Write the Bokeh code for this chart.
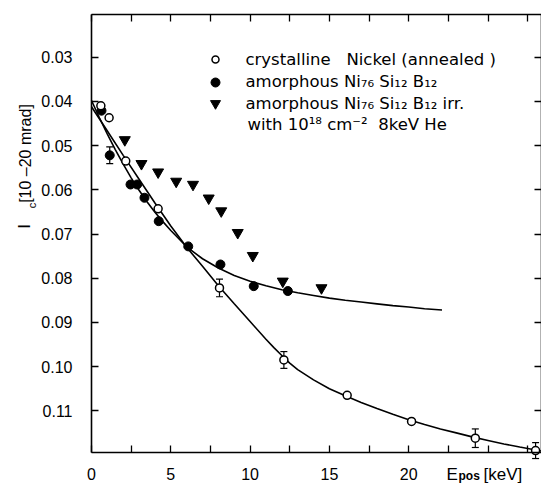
import math
from bokeh.plotting import figure
from bokeh.models import Range1d, FixedTicker, Label, Whisker, TeeHead, ColumnDataSource, LinearAxis
from bokeh.embed import file_html
from bokeh.resources import INLINE

# ---------------- data ----------------
cryst_x = [0.59, 1.11, 2.16, 4.20, 8.07, 12.13, 16.12, 20.18, 24.20, 28.00]
cryst_y = [0.0410, 0.0437, 0.0535, 0.0643, 0.0822, 0.0985, 0.1065, 0.1124, 0.1162, 0.1190]

amor_x = [0.63, 1.15, 2.46, 2.88, 3.34, 4.24, 6.10, 8.13, 10.23, 12.38]
amor_y = [0.0421, 0.0522, 0.0588, 0.0588, 0.0618, 0.0671, 0.0728, 0.0769, 0.0818, 0.0829]

irr_x = [2.10, 3.15, 4.20, 5.34, 6.40, 7.39, 8.18, 9.22, 10.17, 12.06, 14.50]
irr_y = [0.0487, 0.0541, 0.0560, 0.0581, 0.0588, 0.0619, 0.0648, 0.0697, 0.0749, 0.0807, 0.0822]

err_x = [1.15, 8.07, 12.13, 24.20, 28.00]
err_y = [0.0522, 0.0822, 0.0985, 0.1162, 0.1190]
err_d = [0.0019, 0.0020, 0.0019, 0.0021, 0.0018]

fit_cryst_x = [0, 1, 2, 3, 4, 5, 6, 7, 8, 9, 10, 11, 11.5, 12, 12.5, 13, 14, 15, 16,
               17, 18, 19, 20, 21, 22, 23, 24, 25, 26, 27, 28.37]
fit_cryst_y = [0.0412, 0.0467, 0.0522, 0.0576, 0.0630, 0.0682, 0.0730, 0.0773, 0.0817,
               0.0858, 0.0898, 0.0938, 0.0957, 0.0975, 0.0992, 0.1007, 0.1030, 0.1050,
               0.1066, 0.1081, 0.1095, 0.1108, 0.1120, 0.1131, 0.1141, 0.1150, 0.1159,
               0.1167, 0.1175, 0.1182, 0.1191]

fit_amor_x = [0, 0.5, 1, 1.5, 2, 2.5, 3, 3.5, 4, 4.5, 5, 6, 7, 8, 9, 10, 11, 12, 13,
              14, 15, 16, 17, 18, 19, 20, 21, 22.1]
fit_amor_y = [0.0398, 0.0437, 0.0474, 0.0509, 0.0542, 0.0573, 0.0601, 0.0627, 0.0651,
              0.0672, 0.0692, 0.0729, 0.0756, 0.0777, 0.0794, 0.0807, 0.0817, 0.0826,
              0.0833, 0.0839, 0.0845, 0.0850, 0.0854, 0.0858, 0.0862, 0.0865, 0.0869,
              0.0872]

x_major = [0, 5, 10, 15, 20, 25]
x_minor = [2.5, 7.5, 12.5, 17.5, 22.5, 27.5]
x_labels = {0: "0", 5: "5", 10: "10", 15: "15", 20: "20", 25: ""}
y_major = [0.03, 0.04, 0.05, 0.06, 0.07, 0.08, 0.09, 0.10, 0.11]
y_labels = ["0.03", "0.04", "0.05", "0.06", "0.07", "0.08", "0.09", "0.10", "0.11"]

NB = "\u00a0"
legend_texts = ["crystalline" + NB * 2 + " Nickel (annealed" + NB + ")",
                "amorphous Ni₇₆ Si₁₂ B₁₂",
                "amorphous Ni₇₆ Si₁₂ B₁₂ irr.",
                "with 10¹⁸ cm⁻²" + NB + " 8keV He"]

# ---------------- layout ----------------
W, H = 541, 483
PX_X = 15.86          # pixels per keV
PX_Y = 4420.0         # pixels per unit of I_c
ORIGIN_PX = 91        # canvas x of E = 0
Y03_PX = 56.7         # canvas y of I_c = 0.03
X_LEFT = -ORIGIN_PX / PX_X
X_RIGHT = (W - ORIGIN_PX) / PX_X
Y_CTOP = 0.03 - Y03_PX / PX_Y
Y_CBOT = Y_CTOP + H / PX_Y
FRAME_TOP_PX, FRAME_BOT_PX = 14, 452
Y_TOP = Y_CTOP + FRAME_TOP_PX / PX_Y
Y_BOTTOM = Y_CTOP + FRAME_BOT_PX / PX_Y
X0 = 0.0
BASE_SHIFT = 6        # measured offset of the alphabetic baseline in the render

TICK_FONT = "Liberation Sans"
LEG_FONT = "DejaVu Sans"

p = figure(width=W, height=H,
           x_range=Range1d(X_LEFT, X_RIGHT), y_range=Range1d(Y_CBOT, Y_CTOP),
           output_backend="svg", toolbar_location=None, min_border=0)
p.grid.visible = False
p.outline_line_color = None
p.background_fill_color = "white"
p.border_fill_color = "white"

def style_axis(ax, labels=True):
    ax.axis_line_color = "black"
    ax.axis_line_width = 1.6
    ax.major_tick_line_color = "black"
    ax.major_tick_line_width = 1.3
    ax.minor_tick_line_color = "black"
    ax.minor_tick_line_width = 1.3
    ax.major_tick_in = 7
    ax.major_tick_out = 0
    ax.minor_tick_in = 7
    ax.minor_tick_out = 0
    if labels:
        ax.major_label_text_font = TICK_FONT
        ax.major_label_text_font_size = "16px"
        ax.major_label_text_color = "black"
    else:
        ax.major_label_text_color = None

xa = p.xaxis[0]
xa.ticker = FixedTicker(ticks=x_major, minor_ticks=x_minor)
xa.major_label_overrides = x_labels
xa.major_label_standoff = 15
xa.fixed_location = Y_BOTTOM
xa.bounds = (X0, X_RIGHT)
style_axis(xa)

ya = p.yaxis[0]
ya.ticker = FixedTicker(ticks=y_major, minor_ticks=[])
ya.major_label_overrides = dict(zip(y_major, y_labels))
ya.major_label_standoff = 19
ya.fixed_location = X0
ya.bounds = (Y_TOP, Y_BOTTOM)
style_axis(ya)

top = LinearAxis(ticker=FixedTicker(ticks=x_major, minor_ticks=x_minor),
                 fixed_location=Y_TOP, bounds=(X0, X_RIGHT))
style_axis(top, labels=False)
p.add_layout(top, "above")
right = LinearAxis(ticker=FixedTicker(ticks=y_major, minor_ticks=[]),
                   fixed_location=X_RIGHT, bounds=(Y_TOP, Y_BOTTOM))
style_axis(right, labels=False)
p.add_layout(right, "right")

# fitted curves
p.line(fit_cryst_x, fit_cryst_y, line_color="black", line_width=1.6)
p.line(fit_amor_x, fit_amor_y, line_color="black", line_width=1.6)

# error bars
esrc = ColumnDataSource(dict(x=err_x,
                             lo=[y - d for y, d in zip(err_y, err_d)],
                             hi=[y + d for y, d in zip(err_y, err_d)]))
p.add_layout(Whisker(source=esrc, base="x", lower="lo", upper="hi", dimension="height",
                     line_color="black", line_width=1.2,
                     lower_head=TeeHead(size=7, line_color="black", line_width=1.2),
                     upper_head=TeeHead(size=7, line_color="black", line_width=1.2)))

# data markers
p.scatter(irr_x, irr_y, marker="inverted_triangle", size=11, fill_color="black", line_color="black")
p.scatter(amor_x, amor_y, marker="circle", size=9, fill_color="black", line_color="black")
p.scatter(cryst_x, cryst_y, marker="circle", size=8, fill_color="white", line_color="black", line_width=1.5)

# legend: canvas pixel positions
def dx(px):
    return X_LEFT + px / PX_X
def dy(py):
    return Y_CTOP + py / PX_Y

marker_rows = [59, 82, 103]
p.scatter([dx(215)], [dy(marker_rows[0])], marker="circle", size=7, fill_color="white", line_color="black", line_width=1.5)
p.scatter([dx(215)], [dy(marker_rows[1])], marker="circle", size=9, fill_color="black", line_color="black")
p.scatter([dx(215)], [dy(marker_rows[2])], marker="inverted_triangle", size=10, fill_color="black", line_color="black")

baselines = [65, 87, 108.5, 130]
for i, t in enumerate(legend_texts):
    xs = 245 if i < 3 else 247
    p.add_layout(Label(x=xs, y=H - baselines[i] + BASE_SHIFT, x_units="screen", y_units="screen",
                       text=t, text_font=LEG_FONT, text_font_size="16.5px",
                       text_color="black", text_baseline="alphabetic", text_align="left"))

# y axis title (rotated, with subscript)
def ylab(text, px, py, size, style="normal"):
    p.add_layout(Label(x=px, y=H - py, x_units="screen", y_units="screen",
                       text=text, angle=math.pi / 2, angle_units="rad",
                       text_font=TICK_FONT, text_font_size=size, text_font_style=style,
                       text_color="black", text_baseline="middle", text_align="center"))
ylab("[10 –20 mrad]", 25, 153, "16px")
ylab("c", 31, 205, "11px")
ylab("I", 24, 226, "17px")

# x axis title
def xlab(text, px, py, size, style="normal"):
    p.add_layout(Label(x=px, y=H - py + BASE_SHIFT, x_units="screen", y_units="screen",
                       text=text, text_font=TICK_FONT, text_font_size=size,
                       text_font_style=style, text_color="black",
                       text_baseline="alphabetic", text_align="left"))
xlab("E", 446, 480, "17px")
xlab("pos", 458, 481, "12px", "bold")
xlab("[keV]", 483, 480, "17px")

open("out.html", "w").write(file_html(p, INLINE))
